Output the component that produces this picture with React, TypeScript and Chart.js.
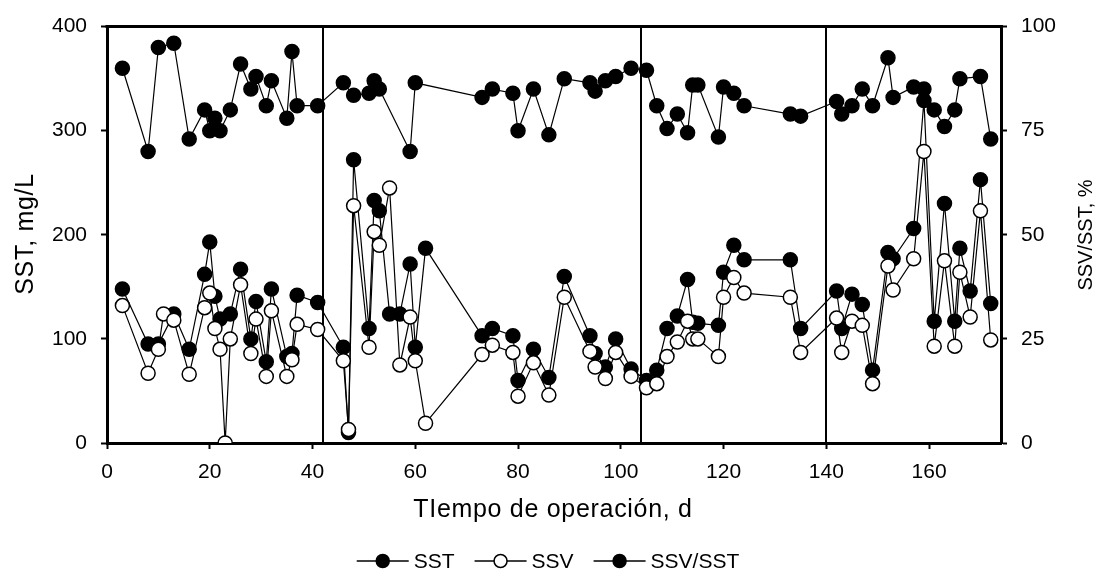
import React, { useEffect, useRef } from 'react';
import { Chart, registerables } from 'chart.js';

Chart.register(...registerables);

// ---- data ----
const sstDays = [3, 8, 10, 13, 16, 19, 20, 21, 22, 24, 26, 28, 29, 31, 32, 35, 36, 37, 41, 46, 47, 48, 51, 52, 53, 55, 57, 59, 60, 62, 73, 75, 79, 80, 83, 86, 89, 94, 95, 97, 99, 102, 105, 107, 109, 111, 113, 114, 115, 119, 120, 122, 124, 133, 135, 142, 143, 145, 147, 149, 152, 153, 157, 159, 161, 163, 165, 166, 168, 170, 172];
const sstValues = [148, 95, 95, 124, 90, 162, 193, 141, 119, 124, 167, 100, 136, 78, 148, 83, 86, 142, 135, 92, 10, 272, 110, 233, 223, 124, 124, 172, 92, 187, 103, 110, 103, 60, 90, 63, 160, 103, 86, 73, 100, 71, 60, 70, 110, 122, 157, 116, 115, 113, 164, 190, 176, 176, 110, 146, 110, 143, 133, 70, 183, 177, 206, 329, 117, 230, 117, 187, 146, 253, 134];

const ssvDays = [3, 8, 10, 11, 13, 16, 19, 20, 21, 22, 23, 24, 26, 28, 29, 31, 32, 35, 36, 37, 41, 46, 47, 48, 51, 52, 53, 55, 57, 59, 60, 62, 73, 75, 79, 80, 83, 86, 89, 94, 95, 97, 99, 102, 105, 107, 109, 111, 113, 114, 115, 119, 120, 122, 124, 133, 135, 142, 143, 145, 147, 149, 152, 153, 157, 159, 161, 163, 165, 166, 168, 170, 172];
const ssvValues = [132, 67, 90, 124, 118, 66, 130, 144, 110, 90, 0, 100, 152, 86, 119, 64, 127, 64, 80, 114, 109, 79, 13, 228, 92, 203, 190, 245, 75, 121, 79, 19, 85, 94, 87, 45, 77, 46, 140, 88, 73, 62, 87, 64, 53, 57, 83, 97, 117, 100, 100, 83, 140, 159, 144, 140, 87, 120, 87, 117, 113, 57, 170, 147, 177, 280, 93, 175, 93, 164, 121, 223, 99];

const ratioDays = [3, 8, 10, 13, 16, 19, 20, 21, 22, 24, 26, 28, 29, 31, 32, 35, 36, 37, 41, 46, 48, 51, 52, 53, 59, 60, 73, 75, 79, 80, 83, 86, 89, 94, 95, 97, 99, 102, 105, 107, 109, 111, 113, 114, 115, 119, 120, 122, 124, 133, 135, 142, 143, 145, 147, 149, 152, 153, 157, 159, 161, 163, 165, 166, 170, 172];
const ratioValues = [90, 70, 95, 96, 73, 80, 75, 78, 75, 80, 91, 85, 88, 81, 87, 78, 94, 81, 81, 86.5, 83.5, 84, 87, 85, 70, 86.5, 83, 85, 84, 75, 85, 74, 87.5, 86.5, 84.5, 87, 88, 90, 89.5, 81, 75.5, 79, 74.5, 86, 86, 73.5, 85.5, 84, 81, 79, 78.5, 82, 79, 81, 85, 81, 92.5, 83, 85.5, 85, 80, 76, 80, 87.5, 88, 73];

const xTicks = [0, 20, 40, 60, 80, 100, 120, 140, 160];
const leftTicks = [0, 100, 200, 300, 400];
const rightTicks = [0, 25, 50, 75, 100];
const phaseBoundaries = [42, 104, 140];

const seriesLabels = ['SST', 'SSV', 'SSV/SST'];
const xTitle = 'TIempo de operación, d';
const leftTitle = 'SST, mg/L';
const rightTitle = 'SSV/SST, %';

const FONT = "'Liberation Sans', Arial, sans-serif";

const toPoints = (xs: number[], ys: number[]) => xs.map((x, i) => ({ x, y: ys[i] }));

const decorPlugin = {
  id: 'decor',
  beforeDatasetsDraw(chart: any) {
    const { ctx, chartArea, scales } = chart;
    ctx.save();
    ctx.strokeStyle = '#000';
    ctx.lineWidth = 2;
    phaseBoundaries.forEach((d) => {
      const px = Math.round(scales.x.getPixelForValue(d));
      ctx.beginPath();
      ctx.moveTo(px, chartArea.top);
      ctx.lineTo(px, chartArea.bottom);
      ctx.stroke();
    });
    ctx.restore();
  },
  afterDraw(chart: any) {
    const { ctx, chartArea } = chart;
    ctx.save();
    // top frame line
    ctx.strokeStyle = '#000';
    ctx.lineWidth = 3;
    ctx.beginPath();
    ctx.moveTo(chartArea.left - 1.5, chartArea.top);
    ctx.lineTo(chartArea.right + 1.5, chartArea.top);
    ctx.stroke();

    ctx.fillStyle = '#000';
    // x title
    ctx.font = `25px ${FONT}`;
    (ctx as any).letterSpacing = '0.7px';
    ctx.textAlign = 'center';
    ctx.textBaseline = 'alphabetic';
    ctx.fillText(xTitle, 553, 517);

    // left title
    ctx.save();
    ctx.translate(33, 234);
    ctx.rotate(-Math.PI / 2);
    ctx.font = `25px ${FONT}`;
    ctx.textAlign = 'center';
    ctx.textBaseline = 'alphabetic';
    ctx.fillText(leftTitle, 0, 0);
    ctx.restore();
    (ctx as any).letterSpacing = '0px';

    // right title
    ctx.save();
    ctx.translate(1092, 235);
    ctx.rotate(-Math.PI / 2);
    ctx.font = `20px ${FONT}`;
    ctx.textAlign = 'center';
    ctx.textBaseline = 'alphabetic';
    ctx.fillText(rightTitle, 0, 0);
    ctx.restore();

    // legend
    const ly = 561;
    const lineLen = 52;
    const gapText = 5;
    const gapItem = 20;
    ctx.font = `21px ${FONT}`;
    const datasets = chart.data.datasets;
    const widths = datasets.map((ds: any) => lineLen + gapText + ctx.measureText(ds.label).width);
    const total = widths.reduce((a: number, b: number) => a + b, 0) + gapItem * (datasets.length - 1);
    let lx = 548 - total / 2;
    datasets.forEach((ds: any, i: number) => {
      ctx.strokeStyle = '#000';
      ctx.lineWidth = 1.5;
      ctx.beginPath();
      ctx.moveTo(lx, ly);
      ctx.lineTo(lx + lineLen, ly);
      ctx.stroke();
      ctx.beginPath();
      ctx.arc(lx + lineLen / 2, ly, 6.5, 0, Math.PI * 2);
      ctx.fillStyle = ds.pointBackgroundColor;
      ctx.fill();
      ctx.stroke();
      ctx.fillStyle = '#000';
      ctx.textAlign = 'left';
      ctx.textBaseline = 'middle';
      ctx.fillText(ds.label, lx + lineLen + gapText, ly + 1);
      lx += widths[i] + gapItem;
    });
    ctx.restore();
  },
};

export default function App() {
  const canvasRef = useRef<HTMLCanvasElement | null>(null);

  useEffect(() => {
    document.body.style.margin = '0';
    const canvas = canvasRef.current;
    if (!canvas) return;

    const pointCommon = {
      borderColor: '#000',
      borderWidth: 1.2,
      pointRadius: 7,
      pointHoverRadius: 7,
      pointBorderWidth: 1.5,
      pointBorderColor: '#000',
      tension: 0,
      fill: false,
    };

    const chart = new Chart(canvas, {
      type: 'line',
      data: {
        datasets: [
          {
            ...pointCommon,
            label: seriesLabels[0],
            data: toPoints(sstDays, sstValues),
            pointBackgroundColor: '#000',
            backgroundColor: '#000',
            yAxisID: 'y',
            order: 1,
          },
          {
            ...pointCommon,
            label: seriesLabels[1],
            data: toPoints(ssvDays, ssvValues),
            pointBackgroundColor: '#fff',
            backgroundColor: '#fff',
            yAxisID: 'y',
            order: 0,
          },
          {
            ...pointCommon,
            label: seriesLabels[2],
            data: toPoints(ratioDays, ratioValues),
            pointBackgroundColor: '#000',
            backgroundColor: '#000',
            yAxisID: 'y2',
            order: 2,
          },
        ],
      },
      options: {
        responsive: false,
        animation: false,
        events: [],
        layout: { padding: { top: 24, left: 0, right: 0, bottom: 0 } },
        plugins: {
          legend: { display: false },
          tooltip: { enabled: false },
          title: { display: false },
        },
        scales: {
          x: {
            type: 'linear',
            min: 0,
            max: 174,
            afterBuildTicks: (s: any) => {
              s.ticks = xTicks.map((v) => ({ value: v }));
            },
            afterFit: (s: any) => {
              s.height = 586 - 443;
            },
            border: { display: true, color: '#000', width: 3 },
            grid: { drawOnChartArea: false, drawTicks: true, tickLength: 6, tickWidth: 2, tickColor: '#000' },
            ticks: { color: '#000', font: { family: FONT, size: 21 }, padding: 11, maxRotation: 0 },
          },
          y: {
            type: 'linear',
            position: 'left',
            min: 0,
            max: 400,
            afterBuildTicks: (s: any) => {
              s.ticks = leftTicks.map((v) => ({ value: v }));
            },
            afterFit: (s: any) => {
              s.width = 107;
            },
            border: { display: true, color: '#000', width: 3 },
            grid: { drawOnChartArea: false, drawTicks: true, tickLength: 6, tickWidth: 2, tickColor: '#000' },
            ticks: { color: '#000', font: { family: FONT, size: 21 }, padding: 14 },
          },
          y2: {
            type: 'linear',
            position: 'right',
            min: 0,
            max: 100,
            afterBuildTicks: (s: any) => {
              s.ticks = rightTicks.map((v) => ({ value: v }));
            },
            afterFit: (s: any) => {
              s.width = 97;
            },
            border: { display: true, color: '#000', width: 3 },
            grid: { drawOnChartArea: false, drawTicks: true, tickLength: 6, tickWidth: 2, tickColor: '#000' },
            ticks: { color: '#000', font: { family: FONT, size: 21 }, padding: 14 },
          },
        },
      },
      plugins: [decorPlugin],
    } as any);

    return () => chart.destroy();
  }, []);

  return (
    <div style={{ width: 1098, height: 586 }}>
      <canvas ref={canvasRef} width={1098} height={586} style={{ display: 'block' }} />
    </div>
  );
}
